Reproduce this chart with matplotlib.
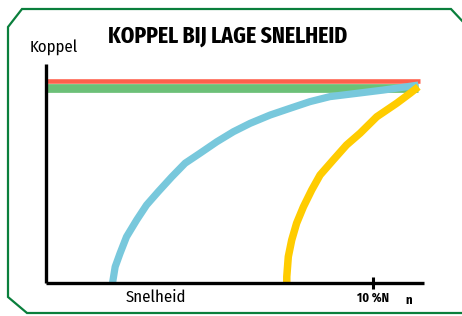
import numpy as np
import matplotlib
matplotlib.use("Agg")
import matplotlib.pyplot as plt
from matplotlib.lines import Line2D

W, H = 462, 316

# chart values (speed 0..100, torque 0..100)
red_x = [0, 98.9]
red_y = [92.2, 92.2]
green_x = [0, 98.5]
green_y = [89.2, 89.2]
blue_x = [17.6, 18.3, 19.6, 21.3, 24.0, 26.6, 29.7, 33.3, 36.8, 40.7, 45.2,
          49.6, 54.0, 59.3, 64.6, 69.8, 75.1, 82.2, 89.2, 95.4, 98.5]
blue_y = [0, 7.4, 13.6, 21.1, 28.8, 35.6, 41.7, 48.5, 54.7, 59.2, 64.5,
          69.1, 72.9, 76.7, 79.8, 82.8, 85.1, 86.6, 88.1, 89.6, 90.4]
yellow_x = [63.7, 63.7, 64.1, 65.0, 66.3, 68.1, 70.3, 72.5, 76.0, 79.5, 83.1,
            87.5, 92.8, 96.3, 98.5]
yellow_y = [0, 2.9, 12.0, 19.6, 27.3, 34.8, 42.5, 49.3, 56.2, 63.0, 68.4,
            75.9, 82.1, 86.6, 89.6]
tick_pos = [86.4]
tick_labels = ["10 %N"]

FONT = ["Fira Sans Condensed", "Open Sans", "DejaVu Sans"]
TITLE_FONT = ["Fira Sans Extra Condensed", "Fira Sans Condensed", "DejaVu Sans"]

fig = plt.figure(figsize=(W / 100, H / 100), dpi=100)
fig.patch.set_facecolor("white")


def px(x, y):
    return x / W, 1 - y / H


# green frame with cut corners
frame = [(470, 313), (27, 313), (8, 297), (8, 27), (22, 9), (451, 9), (466, 25)]
xs, ys = zip(*[px(*p) for p in frame])
fig.add_artist(Line2D(xs, ys, transform=fig.transFigure, color="#0a7f3c",
                      lw=1.6, solid_joinstyle="miter"))

l, b = px(46, 283)
r, t = px(424, 64)
ax = fig.add_axes([l, b, r - l, t - b])
ax.set_xlim(0, 100)
ax.set_ylim(0, 100)

ax.plot(red_x, red_y, color="#ff604c", lw=3.3, solid_capstyle="butt")
ax.plot(green_x, green_y, color="#6cc078", lw=6.3, solid_capstyle="butt")
ax.plot(blue_x, blue_y, color="#78c8dc", lw=5.2, solid_capstyle="butt",
        solid_joinstyle="round")
ax.plot(yellow_x, yellow_y, color="#ffcc00", lw=5.4, solid_capstyle="butt",
        solid_joinstyle="round")

for s in ["top", "right"]:
    ax.spines[s].set_visible(False)
for s in ["left", "bottom"]:
    ax.spines[s].set_linewidth(2.4)
    ax.spines[s].set_color("black")
    ax.spines[s].set_capstyle("butt")
ax.set_yticks([])
ax.set_xticks(tick_pos)
ax.set_xticklabels(tick_labels, family=FONT, fontsize=9, fontweight="bold")
ax.tick_params(axis="x", direction="inout", length=9, width=2.2, pad=2)
ax.patch.set_alpha(0)

fig.text(*px(228, 36), "KOPPEL BIJ LAGE SNELHEID", family=TITLE_FONT, fontsize=17,
         fontweight="bold", ha="center", va="center")
fig.text(*px(54, 48), "Koppel", family=FONT, fontsize=12, ha="center", va="center")
fig.text(*px(156, 297), "Snelheid", family=FONT, fontsize=12, ha="center", va="center")
fig.text(*px(409, 300), "n", family=FONT, fontsize=9, fontweight="bold",
         ha="center", va="center")

fig.savefig("out.png", dpi=100, facecolor="white")
